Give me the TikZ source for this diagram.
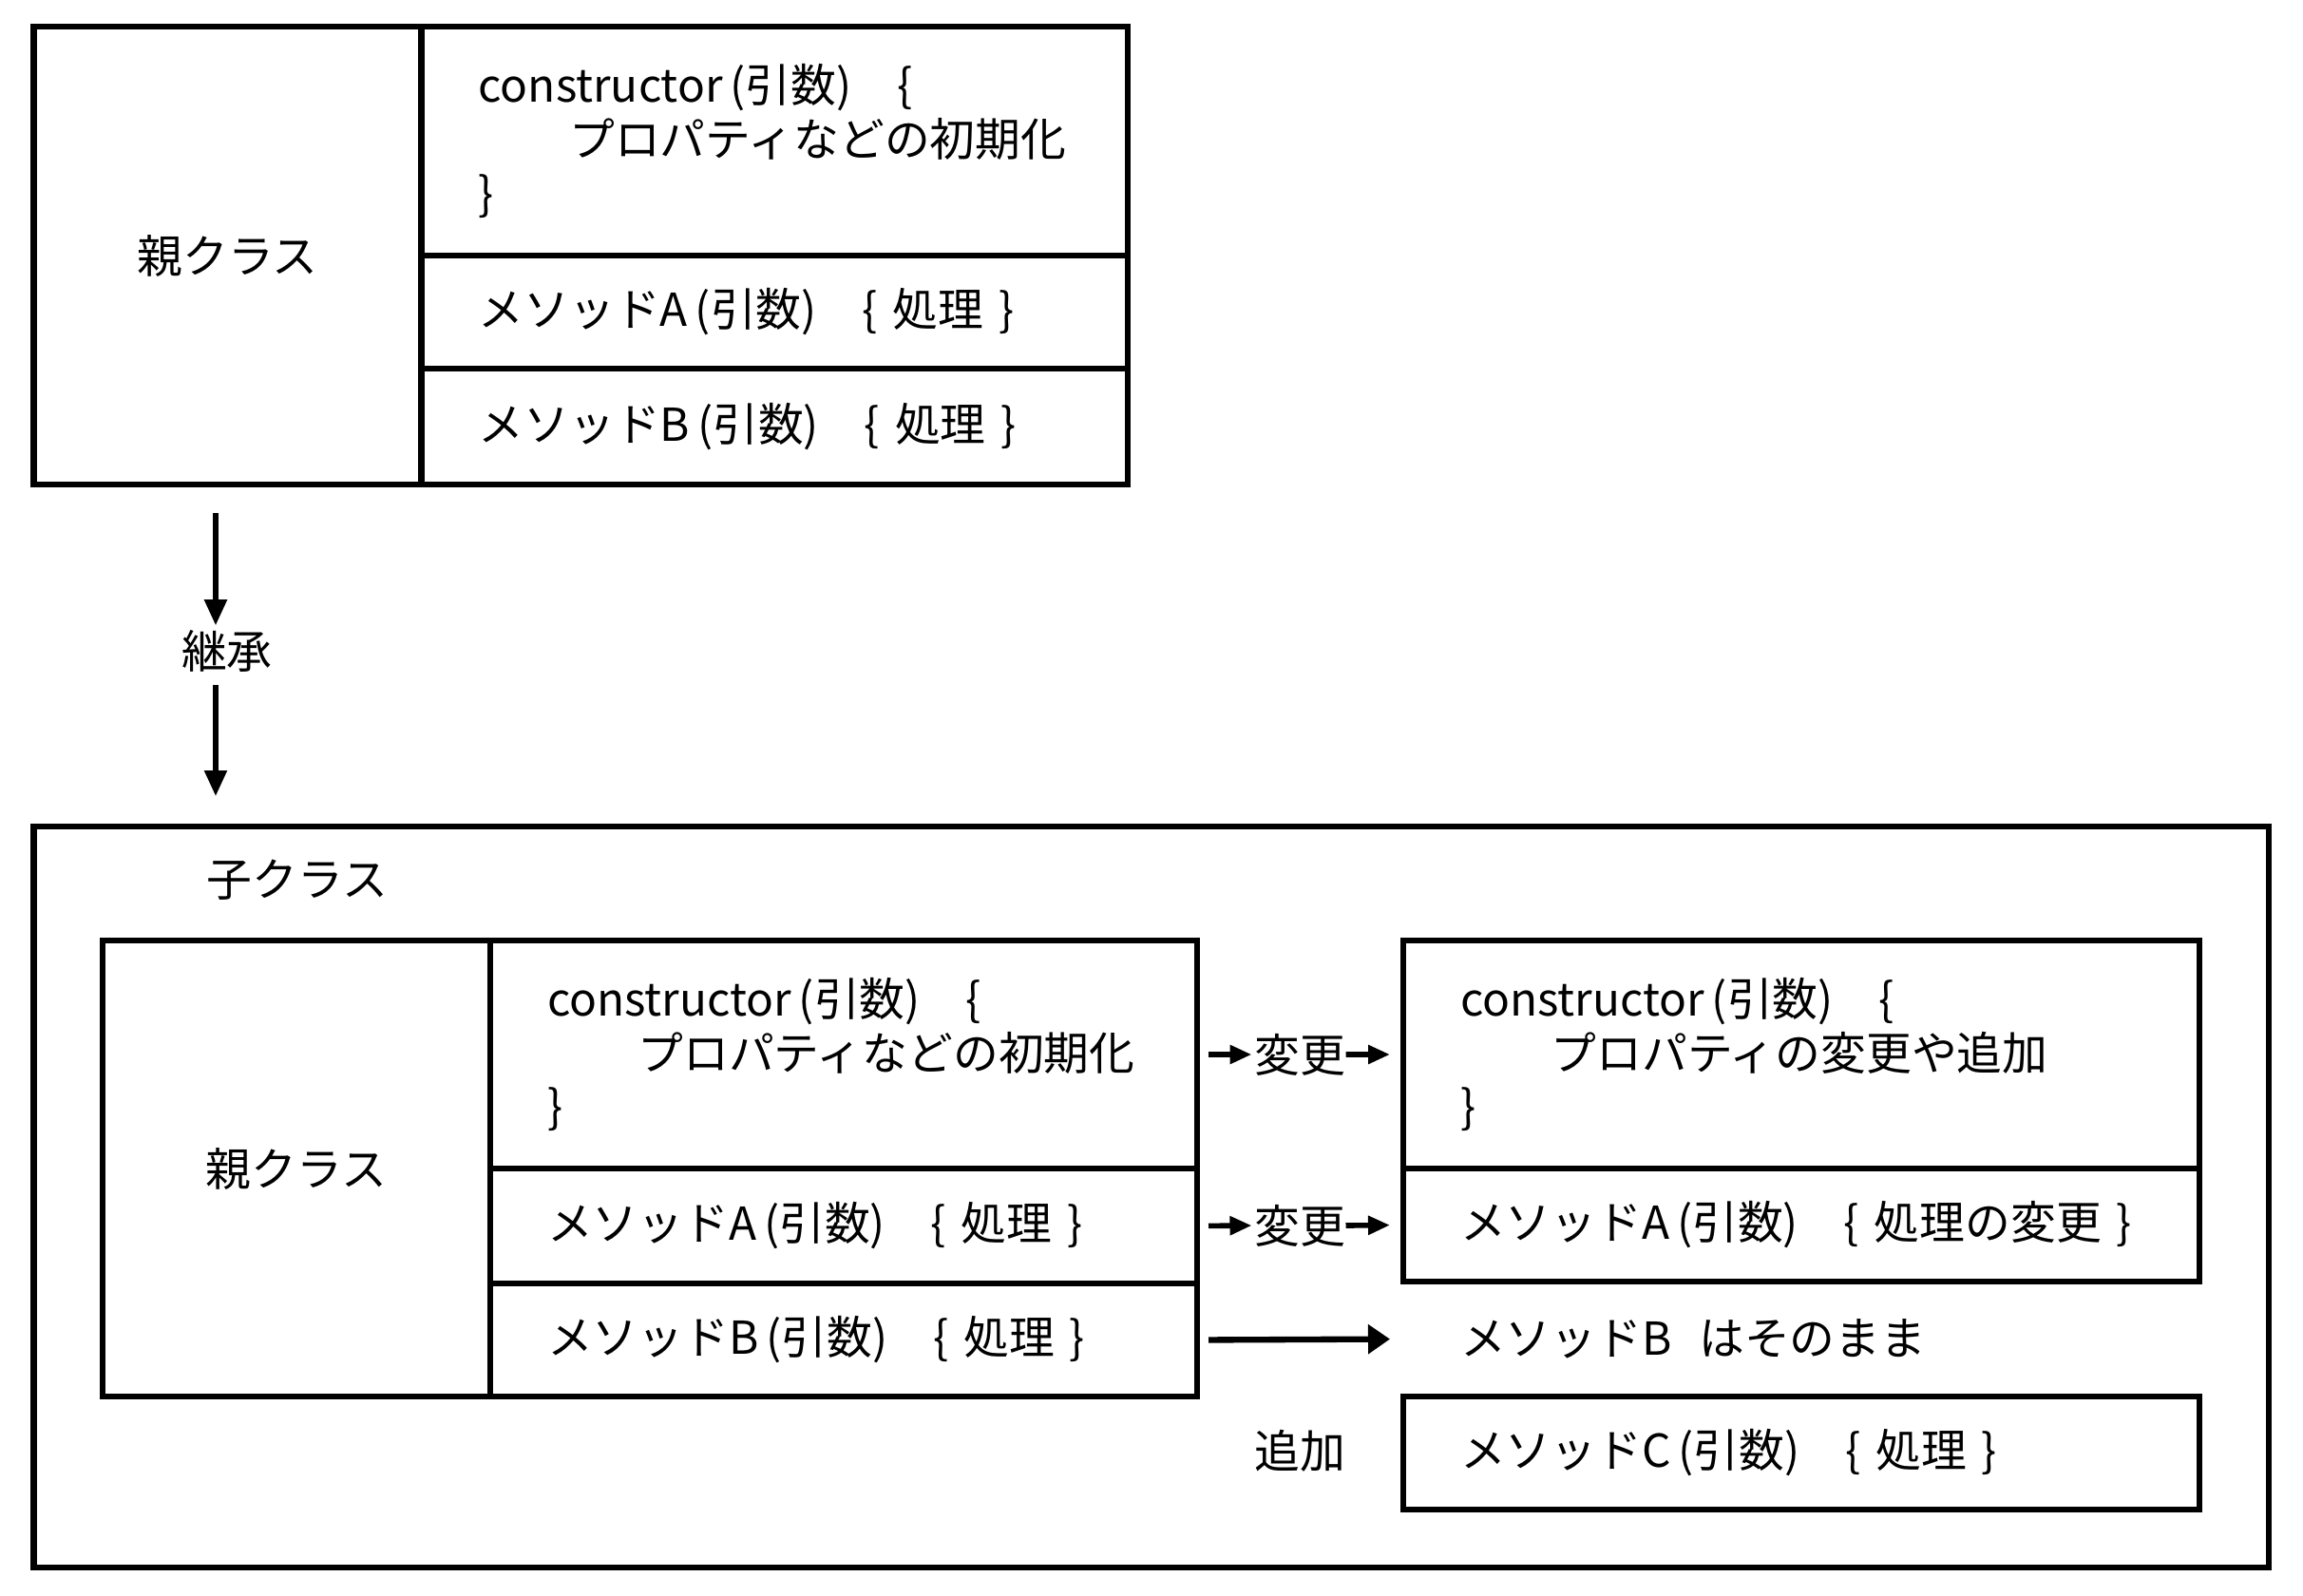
\documentclass[tikz,border=0pt]{standalone}
\usepackage{fontspec}
\setmainfont{Noto Sans CJK JP}
\usepackage{tikz}
\usetikzlibrary{arrows.meta}

\begin{document}
\begin{tikzpicture}[font=\fontsize{13.6pt}{16.2pt}\selectfont,
  cell/.style={draw,line width=1.8pt,anchor=north west,outer sep=0pt,inner xsep=0.6cm,inner ysep=0pt,align=left},
  lcell/.style={draw,line width=1.8pt,anchor=north west,outer sep=0pt,inner sep=0pt,align=center},
  lbl/.style={inner sep=0pt},
  varr/.style={-{Triangle[length=0.27cm,width=0.23cm]},line width=1.5pt},
  harr/.style={-{Triangle[length=0.23cm,width=0.19cm]},line width=1.6pt},
  longarr/.style={-{Triangle[length=0.23cm,width=0.30cm]},line width=1.8pt}]
\useasboundingbox (0,0) rectangle (24.24,-16.8);

% parent class
\node[lcell,minimum width=4.08cm,minimum height=4.82cm] (ppar) at (0.356,-0.28) {親クラス};
\node[cell,text width=6.233cm,minimum height=2.41cm] (pctor) at (4.437,-0.28) {constructor\,(引数)　\{\\ \hspace*{2em}プロパティなどの初期化\\ \}};
\node[cell,text width=6.233cm,minimum height=1.19cm] (pmetha) at (4.437,-2.69) {メソッドA\,(引数)　\{ 処理 \}};
\node[cell,text width=6.233cm,minimum height=1.22cm] (pmethb) at (4.437,-3.88) {メソッドB\,(引数)　\{ 処理 \}};

% child class
\node[draw,line width=1.8pt,anchor=north west,outer sep=0pt,inner sep=0pt,minimum width=23.524cm,minimum height=7.80cm] (child) at (0.356,-8.70) {};
\node[lbl,anchor=west] (childlbl) at (2.17,-9.26) {子クラス};

% inheritance
\node[lbl] (inherit) at (2.39,-6.85) {継承};
\coordinate (inhx) at (2.27,-6.85);
\draw[varr,shorten <=0.3cm,shorten >=0.04cm] (inhx |- ppar.south) -- (inhx |- inherit.north);
\draw[varr,shorten <=0.13cm,shorten >=0.32cm] (inhx |- inherit.south) -- (inhx |- child.north);

% inherited part
\node[lcell,minimum width=4.08cm,minimum height=4.80cm] (cpar) at (1.08,-9.90) {親クラス};
\node[cell,text width=6.24cm,minimum height=2.40cm] (cpctor) at (5.16,-9.90) {constructor\,(引数)　\{\\ \hspace*{2em}プロパティなどの初期化\\ \}};
\node[cell,text width=6.24cm,minimum height=1.21cm] (cpmetha) at (5.16,-12.30) {メソッドA\,(引数)　\{ 処理 \}};
\node[cell,text width=6.24cm,minimum height=1.19cm] (cpmethb) at (5.16,-13.51) {メソッドB\,(引数)　\{ 処理 \}};

% own part
\node[cell,text width=7.18cm,minimum height=2.40cm] (cctor) at (14.77,-9.90) {constructor\,(引数)　\{\\ \hspace*{2em}プロパティの変更や追加\\ \}};
\node[cell,text width=7.18cm,minimum height=1.19cm] (cmetha) at (14.77,-12.30) {メソッドA\,(引数)　\{ 処理の変更 \}};
\node[cell,draw=none,text width=7.18cm,minimum height=1.21cm] (cmethb) at (14.77,-13.49) {メソッドB\hspace{0.6em}はそのまま};
\node[cell,text width=7.18cm,minimum height=1.19cm] (cmethc) at (14.77,-14.70) {メソッドC\,(引数)　\{ 処理 \}};

% changes
\node[lbl] (chg1) at (13.68,-11.10) {変更};
\node[lbl] (chg2) at (13.68,-12.90) {変更};
\node[lbl] (add) at (13.68,-15.27) {追加};
\draw[harr,shorten <=0.12cm,shorten >=0.02cm] (cpctor.east) -- (chg1.west);
\draw[harr,shorten >=0.14cm] (chg1.east) -- (cctor.west);
\draw[harr,shorten <=0.12cm,shorten >=0.02cm] (cpmetha.east) -- (chg2.west);
\draw[harr,shorten >=0.14cm] (chg2.east) -- (cmetha.west);
\draw[longarr,shorten <=0.12cm,shorten >=0.14cm] (cpmethb.east) -- (cmethb.west);
\end{tikzpicture}
\end{document}
